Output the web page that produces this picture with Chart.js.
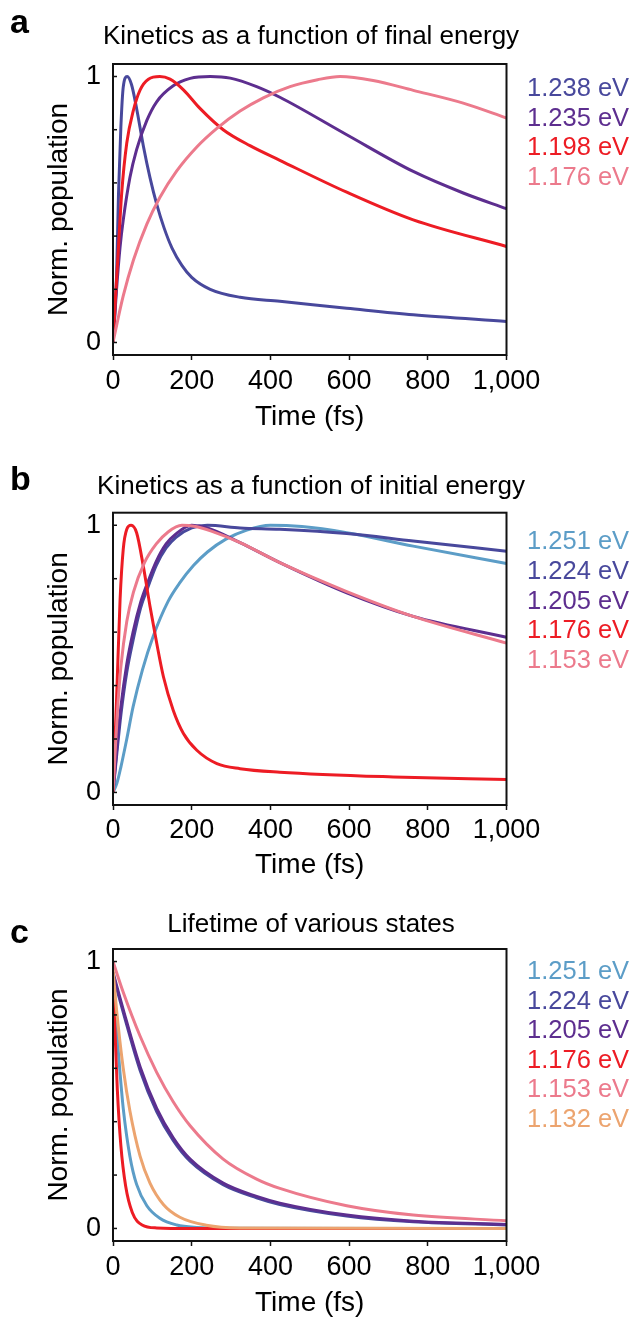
<!DOCTYPE html>
<html><head><meta charset="utf-8">
<script src="https://cdn.jsdelivr.net/npm/chart.js@4.4.1/dist/chart.umd.min.js"></script>
<style>
html,body{margin:0;padding:0;background:#fff;}
#wrap{position:relative;width:632px;height:1318px;overflow:hidden;}
canvas{position:absolute;left:0;}
</style></head><body>
<div id="wrap">
<canvas id="ca" width="632" height="440" style="top:0px"></canvas>
<canvas id="cb" width="632" height="440" style="top:440px"></canvas>
<canvas id="cc" width="632" height="438" style="top:880px"></canvas>
</div>
<script>
// ---------- tick labels ----------
const xTickValues = [0, 200, 400, 600, 800, 1000];
const xTickLabels = ['0', '200', '400', '600', '800', '1,000'];
const yTickValues = [0, 1];
const yTickLabels = ['0', '1'];

// ---------- panel a: kinetics vs final energy ----------
const aLabels = ['1.238 eV', '1.235 eV', '1.198 eV', '1.176 eV'];
const tA1238 = [0, 5, 9, 14, 20, 26, 36, 47, 60, 77, 94, 111, 130, 150, 175, 200, 247, 323, 424, 594, 763, 1000];
const vA1238 = [0, 0.12, 0.25, 0.56, 0.81, 0.96, 1.0, 0.97, 0.88, 0.74, 0.62, 0.52, 0.43, 0.355, 0.29, 0.245, 0.2, 0.17, 0.155, 0.129, 0.104, 0.079];
const tA1235 = [0, 9, 18, 26, 43, 60, 86, 111, 153, 196, 247, 298, 365, 424, 594, 763, 890, 1000];
const vA1235 = [0, 0.2, 0.36, 0.46, 0.62, 0.725, 0.835, 0.905, 0.965, 0.993, 1.0, 0.994, 0.962, 0.922, 0.781, 0.643, 0.562, 0.503];
const tA1198 = [0, 6, 12, 22, 35, 52, 69, 90, 119, 145, 179, 221, 280, 348, 424, 594, 763, 1000];
const vA1198 = [0, 0.16, 0.31, 0.56, 0.75, 0.874, 0.95, 0.99, 1.0, 0.99, 0.95, 0.88, 0.80, 0.74, 0.685, 0.565, 0.461, 0.361];
const tA1176 = [0, 10, 26, 52, 86, 119, 162, 213, 264, 323, 382, 450, 520, 577, 661, 763, 890, 1000];
const vA1176 = [0, 0.07, 0.175, 0.31, 0.445, 0.545, 0.645, 0.735, 0.805, 0.87, 0.92, 0.962, 0.988, 1.0, 0.985, 0.948, 0.9, 0.844];

// ---------- panel b: kinetics vs initial energy ----------
const bLabels = ['1.251 eV', '1.224 eV', '1.205 eV', '1.176 eV', '1.153 eV'];
const tB1251 = [0, 10, 20, 35, 51, 75, 102, 140, 170, 205, 240, 287, 340, 400, 480, 594, 763, 1000];
const vB1251 = [0, 0.035, 0.095, 0.2, 0.32, 0.46, 0.584, 0.715, 0.785, 0.85, 0.9, 0.948, 0.982, 1.0, 0.995, 0.972, 0.922, 0.857];
const tB1224 = [0, 10, 20, 35, 51, 70, 88, 110, 135, 160, 200, 240, 323, 424, 594, 763, 1000];
const vB1224 = [0, 0.15, 0.29, 0.45, 0.57, 0.69, 0.765, 0.85, 0.915, 0.955, 0.99, 1.0, 0.99, 0.985, 0.969, 0.941, 0.903];
const tB1205 = [0, 10, 20, 35, 51, 70, 88, 110, 135, 160, 200, 240, 323, 424, 594, 763, 1000];
const vB1205 = [0, 0.17, 0.32, 0.48, 0.6, 0.71, 0.785, 0.865, 0.93, 0.968, 1.0, 0.99, 0.935, 0.86, 0.747, 0.659, 0.581];
const tB1176 = [0, 9, 18, 26, 35, 46, 60, 77, 94, 111, 128, 153, 179, 213, 264, 323, 424, 712, 1000];
const vB1176 = [0, 0.346, 0.722, 0.91, 0.985, 1.0, 0.972, 0.847, 0.697, 0.559, 0.434, 0.308, 0.221, 0.158, 0.108, 0.089, 0.076, 0.058, 0.048];
const tB1153 = [0, 5, 12, 20, 35, 52, 80, 110, 140, 175, 210, 250, 323, 424, 594, 763, 1000];
const vB1153 = [0, 0.14, 0.32, 0.47, 0.64, 0.75, 0.86, 0.93, 0.975, 1.0, 0.995, 0.978, 0.935, 0.86, 0.752, 0.659, 0.559];

// ---------- panel c: lifetimes ----------
const cLabels = ['1.251 eV', '1.224 eV', '1.205 eV', '1.176 eV', '1.153 eV', '1.132 eV'];
const tC1251 = [0, 9, 18, 26, 43, 60, 86, 119, 162, 213, 300, 1000];
const vC1251 = [0.93, 0.75, 0.58, 0.45, 0.27, 0.165, 0.085, 0.038, 0.013, 0.004, 0.001, 0];
const tC1224 = [0, 26, 69, 111, 153, 196, 280, 365, 424, 594, 763, 1000];
const vC1224 = [0.95, 0.81, 0.592, 0.438, 0.33, 0.252, 0.164, 0.115, 0.09, 0.047, 0.025, 0.013];
const tC1205 = [0, 26, 69, 111, 153, 196, 280, 365, 424, 594, 763, 1000];
const vC1205 = [0.96, 0.82, 0.605, 0.45, 0.34, 0.26, 0.17, 0.12, 0.095, 0.05, 0.027, 0.015];
const tC1176 = [0, 4, 11, 20, 32, 49, 74, 111, 200, 1000];
const vC1176 = [0.95, 0.78, 0.52, 0.31, 0.16, 0.06, 0.013, 0.002, 0, 0];
const tC1153 = [0, 26, 69, 111, 153, 196, 280, 365, 424, 594, 763, 1000];
const vC1153 = [1, 0.885, 0.72, 0.585, 0.475, 0.385, 0.26, 0.185, 0.15, 0.085, 0.05, 0.029];
const tC1132 = [0, 9, 26, 43, 69, 94, 128, 170, 237, 322, 1000];
const vC1132 = [0.97, 0.82, 0.6, 0.44, 0.27, 0.17, 0.09, 0.042, 0.012, 0.002, 0];

// ---------- styles ----------
const C_BLUE = '#48489c', C_PURPLE = '#5d2e8f', C_RED = '#ed1c24', C_PINK = '#ec7a8c', C_LIGHT = '#5c9dc7', C_ORANGE = '#eca46f';
const F = "'Liberation Sans', Arial, Helvetica, sans-serif";
Chart.defaults.font.family = F;

function pts(t, v) { return t.map((x, i) => ({x: x, y: v[i]})); }

const decor = {
  id: 'decor',
  afterDraw(chart, args, o) {
    const ctx = chart.ctx, a = chart.chartArea, ys = chart.scales.y;
    ctx.save();
    ctx.strokeStyle = '#111'; ctx.lineWidth = 2;
    ctx.strokeRect(a.left, a.top, a.right - a.left, a.bottom - a.top);
    ctx.lineWidth = 1.5;
    ys.ticks.forEach(tk => {
      const p = ys.getPixelForValue(tk.value);
      ctx.beginPath(); ctx.moveTo(a.left, p); ctx.lineTo(a.left + 4, p); ctx.stroke();
    });
    ctx.font = '25.5px ' + F; ctx.textBaseline = 'middle'; ctx.textAlign = 'left';
    chart.data.datasets.forEach((ds, i) => {
      ctx.fillStyle = ds.borderColor;
      ctx.fillText(ds.label, 527, o.legendY0 + i * o.legendStep);
    });
    ctx.font = 'bold 34px ' + F; ctx.fillStyle = '#000'; ctx.textBaseline = 'alphabetic';
    ctx.fillText(o.letter, 10, o.letterY);
    ctx.restore();
  }
};

function makePanel(id, p) {
  const Hx = p.H - p.LB - p.frameBottom;
  const datasets = p.series.map((s, i) => ({
    label: s.label, data: pts(s.t, s.v), borderColor: s.color, backgroundColor: s.color,
    borderWidth: 3, pointRadius: 0, fill: false, cubicInterpolationMode: 'monotone', order: -i
  }));
  return new Chart(document.getElementById(id), {
    type: 'line',
    data: {datasets: datasets},
    options: {
      responsive: false, animation: false, devicePixelRatio: 1,
      layout: {padding: {left: 0, right: 10, top: 0, bottom: p.LB}},
      plugins: {
        legend: {display: false}, tooltip: {enabled: false},
        title: {display: true, text: p.title, color: '#000',
          font: {size: 26, family: F, weight: 'normal', lineHeight: 1.2},
          padding: {top: p.tTop, bottom: p.tBottom}},
        decor: {letter: p.letter, letterY: p.letterY, legendY0: p.legendY0, legendStep: p.legendStep}
      },
      scales: {
        x: {
          type: 'linear', min: 0, max: 1000,
          afterFit: s => { s.height = Hx; },
          border: {display: false},
          grid: {drawOnChartArea: false, drawTicks: true, tickLength: 5, tickWidth: 1.5, tickColor: '#111'},
          ticks: {stepSize: 200, padding: p.xPad, color: '#000', maxRotation: 0, autoSkip: false,
            font: {size: 27, family: F},
            callback: v => { const k = xTickValues.indexOf(Math.round(v)); return k >= 0 ? xTickLabels[k] : ''; }},
          title: {display: true, text: 'Time (fs)', color: '#000', font: {size: 28, family: F, lineHeight: 1}, padding: {top: 0, bottom: 0}}
        },
        y: {
          type: 'linear', min: -0.047, max: 1.047,
          afterFit: s => { s.width = 113; },
          border: {display: false},
          grid: {display: false, drawTicks: false},
          ticks: {stepSize: 0.2, includeBounds: false, padding: 12, color: '#000', autoSkip: false,
            font: {size: 27, family: F},
            callback: v => { for (let k = 0; k < yTickValues.length; k++) { if (Math.abs(v - yTickValues[k]) < 1e-6) return yTickLabels[k]; } return ''; }},
          title: {display: true, text: 'Norm. population', color: '#000', font: {size: 28, family: F, lineHeight: 1}, padding: {top: 45.5, bottom: 0}}
        },
        y2: {
          position: 'right', display: true,
          afterFit: s => { s.width = 115.5; },
          border: {display: false}, grid: {display: false, drawTicks: false}, ticks: {display: false}
        }
      }
    },
    plugins: [decor]
  });
}

makePanel('ca', {
  H: 440, LB: 9, frameBottom: 355, xPad: 5, tTop: 21.4, tBottom: 11.4,
  title: 'Kinetics as a function of final energy', letter: 'a', letterY: 33,
  legendY0: 89, legendStep: 29.5,
  series: [
    {label: aLabels[0], color: C_BLUE, t: tA1238, v: vA1238},
    {label: aLabels[1], color: C_PURPLE, t: tA1235, v: vA1235},
    {label: aLabels[2], color: C_RED, t: tA1198, v: vA1198},
    {label: aLabels[3], color: C_PINK, t: tA1176, v: vA1176}
  ]
});
makePanel('cb', {
  H: 440, LB: 1, frameBottom: 365, xPad: 4, tTop: 31.4, tBottom: 10.1,
  title: 'Kinetics as a function of initial energy', letter: 'b', letterY: 50,
  legendY0: 102, legendStep: 29.8,
  series: [
    {label: bLabels[0], color: C_LIGHT, t: tB1251, v: vB1251},
    {label: bLabels[1], color: C_BLUE, t: tB1224, v: vB1224},
    {label: bLabels[2], color: C_PURPLE, t: tB1205, v: vB1205},
    {label: bLabels[3], color: C_RED, t: tB1176, v: vB1176},
    {label: bLabels[4], color: C_PINK, t: tB1153, v: vB1153}
  ]
});
makePanel('cc', {
  H: 438, LB: 1, frameBottom: 361, xPad: 5, tTop: 29.4, tBottom: 8.4,
  title: 'Lifetime of various states', letter: 'c', letterY: 63,
  legendY0: 92, legendStep: 29.5,
  series: [
    {label: cLabels[0], color: C_LIGHT, t: tC1251, v: vC1251},
    {label: cLabels[1], color: C_BLUE, t: tC1224, v: vC1224},
    {label: cLabels[2], color: C_PURPLE, t: tC1205, v: vC1205},
    {label: cLabels[3], color: C_RED, t: tC1176, v: vC1176},
    {label: cLabels[4], color: C_PINK, t: tC1153, v: vC1153},
    {label: cLabels[5], color: C_ORANGE, t: tC1132, v: vC1132}
  ]
});
</script>
</body></html>
